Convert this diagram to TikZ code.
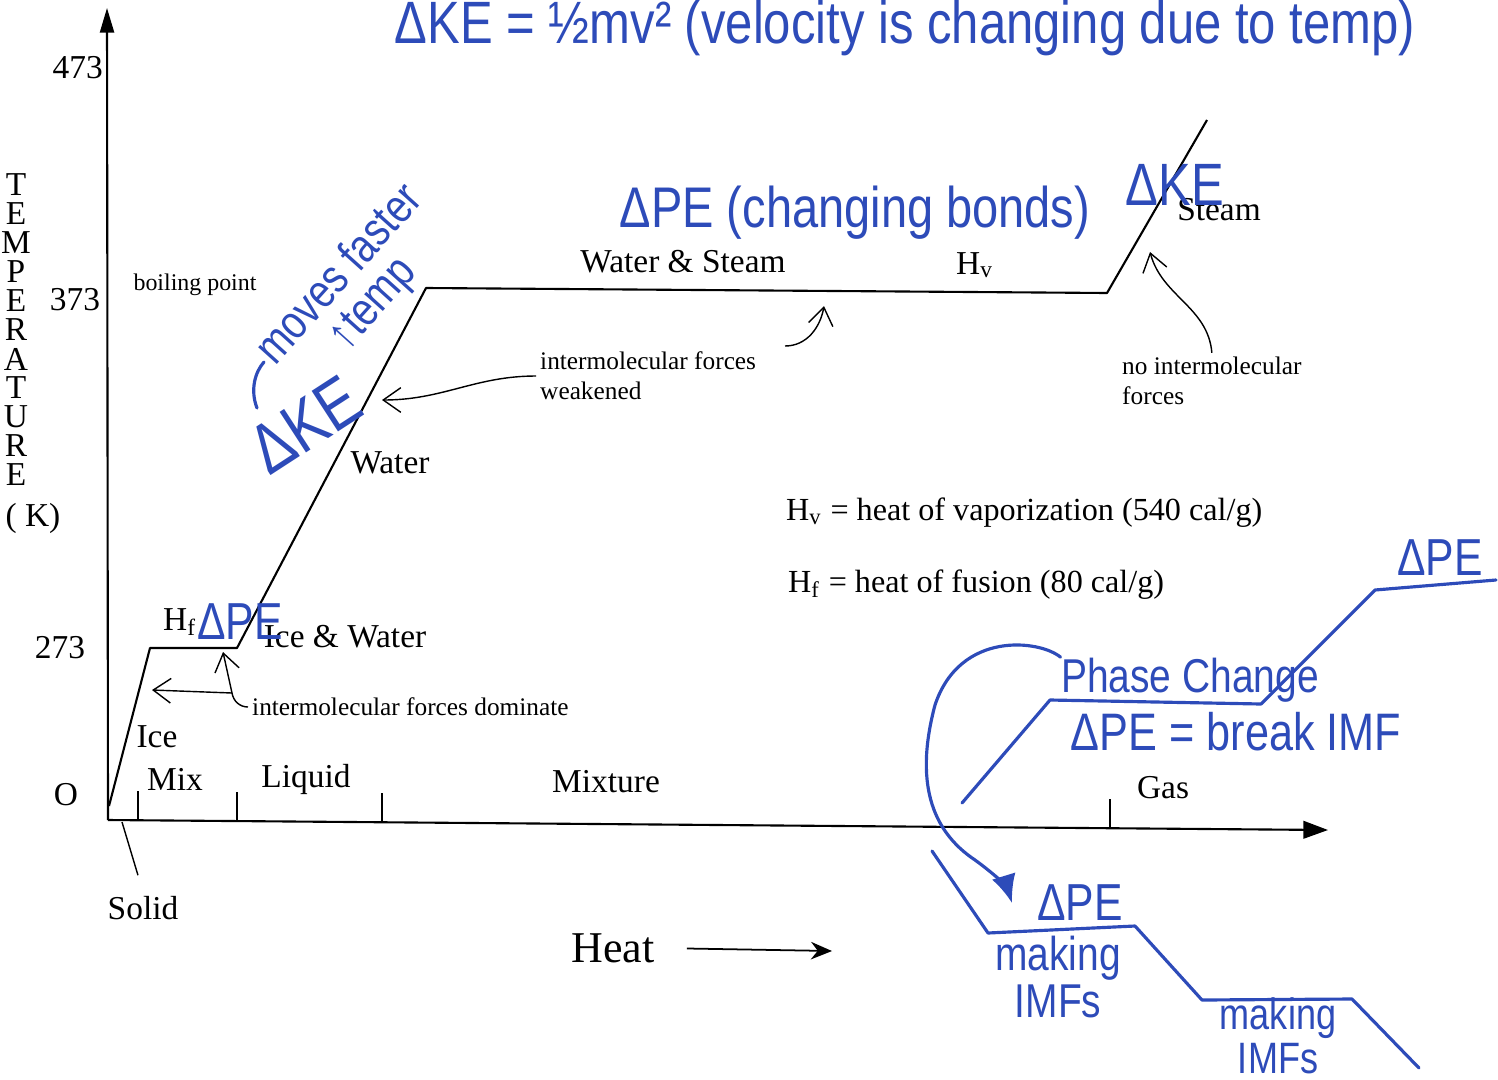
\documentclass[tikz,border=0pt]{standalone}
\usepackage{fontspec}
\setmainfont{Liberation Serif}
\newfontfamily\handfont[FakeStretch=0.82]{Liberation Sans}
\usetikzlibrary{arrows.meta, positioning}
\definecolor{ink}{RGB}{45,75,185}
\newcommand{\inkfont}[1]{\handfont\fontsize{#1}{#1}\selectfont}

\begin{document}
\begin{tikzpicture}[
    x=0.01cm, y=-0.01cm,
    lbl/.style={font=\fontsize{9.5}{11}\selectfont, inner sep=1pt},
    small/.style={font=\fontsize{7.2}{8.6}\selectfont, inner sep=1pt, align=left},
    tick/.style={line width=0.5pt},
    curve/.style={line width=0.6pt, line join=round},
    pointer/.style={-{Straight Barb[length=5pt,width=7pt]}, line width=0.4pt},
    hand/.style={text=ink, inner sep=0pt},
    inkline/.style={ink, line width=0.9pt, line join=round, line cap=round}
    ]
    \useasboundingbox (0,0) rectangle (1498,1079);

    % Axes
    \coordinate (o) at (108,820);
    \coordinate (ytop) at (107,8);
    \coordinate (xend) at (1328,830);
    \draw[line width=0.6pt, -{Triangle[length=7pt,width=4pt]}] (o) -- (ytop);
    \draw[line width=0.6pt, -{Triangle[length=7pt,width=5pt]}] (o) -- (xend);
    \foreach \t/\ya in {138/820, 237/821, 382/822, 1110/828} {
        \draw[tick] (\t,\ya) -- (\t,{\ya-29});
    }

    % Axis labels
    \node[lbl, anchor=east] (t473) at (107,68) {473};
    \node[lbl] (t373) at (75,300) {373};
    \node[lbl] (t273) at (60,648) {273};
    \node[lbl] (t0) at (66,795) {O};
    \foreach \c [count=\i from 0] in {T,E,M,P,E,R,A,T,U,R,E} {
        \node[lbl, inner sep=0pt] (ylab-\i) at (16,{185+29*\i}) {\c};
    }
    \node[lbl] (unit) at (33,518) {( K)};

    % Heating curve
    \coordinate (c0) at (109,806);
    \coordinate (c1) at (150,648);
    \coordinate (c2) at (237,648);
    \coordinate (c3) at (426,288);
    \coordinate (c4) at (1107,293);
    \coordinate (c5) at (1207,120);
    \draw[curve] (c0) -- (c1) -- (c2) -- (c3) -- (c4) -- (c5);

    % Curve labels
    \node[small, font=\fontsize{6.8}{8}\selectfont] (boil) at (195,285) {boiling point};
    \node[lbl] (ws) at (683,262) {Water \& Steam};
    \node[lbl] (hv) at (975,265) {H\textsubscript{v}};
    \node[lbl] (steam) at (1219,210) {Steam};
    \node[lbl] (water) at (390,463) {Water};
    \node[lbl] (iw) at (345,637) {Ice \& Water};
    \node[lbl] (hf) at (180,622) {H\textsubscript{f}};
    \node[lbl] (ice) at (157,737) {Ice};
    \node[lbl] (mix) at (175,779) {Mix};
    \node[lbl] (liquid) at (306,779) {Liquid};
    \node[lbl] (mixture) at (606,782) {Mixture};
    \node[lbl] (gas) at (1163,788) {Gas};
    \node[lbl] (solid) at (143,908) {Solid};
    \node[lbl, font=\fontsize{12.5}{14}\selectfont] (heat) at (613,948) {Heat};

    % Notes
    \node[small, anchor=west] (weak) at (536,376) {intermolecular forces\\weakened};
    \node[small, anchor=west] (dom) at (248,707) {intermolecular forces dominate};
    \node[small, anchor=west] (noimf) at (1118,381) {no intermolecular\\forces};
    \node[lbl, anchor=west, font=\fontsize{9.15}{11}\selectfont] (hveq) at (782,513) {H\textsubscript{v} = heat of vaporization (540 cal/g)};
    \node[lbl, anchor=west, font=\fontsize{9.15}{11}\selectfont] (hfeq) at (784,585) {H\textsubscript{f} = heat of fusion (80 cal/g)};

    % Pointers
    \coordinate (weaktip) at (382,400);
    \coordinate (domjoin) at (232,693);
    \coordinate (icetip) at (152,690);
    \coordinate (melttip) at (223,652);
    \coordinate (hvtail) at (785,346);
    \coordinate (hvtip) at (824,306);
    \coordinate (steamtip) at (1150,252);
    \coordinate (solidpt) at (122,822);
    \coordinate (heatend) at (832,951);
    \draw[pointer] (weak.west) to[out=180, in=0] (weaktip);
    \draw[line width=0.4pt] (dom.west) to[out=180, in=-80] (domjoin);
    \draw[pointer] (domjoin) -- (icetip);
    \draw[pointer] (domjoin) -- (melttip);
    \draw[pointer] (hvtail) to[out=0, in=-100] (hvtip);
    \draw[pointer] (noimf.north) to[out=95, in=-75] (steamtip);
    \draw[line width=0.4pt, shorten >=5pt] (solidpt) -- (solid.north);
    \draw[line width=0.5pt, shorten <=8pt, -{Stealth[length=6pt,width=5pt]}] (heat.east) -- (heatend);

    % Handwritten notes
    \node[hand, font=\inkfont{17}] (kedef) at (905,28) {ΔKE = ½mv² (velocity is changing due to temp)};
    \node[hand, font=\handfont\fontsize{13.5}{12.5}\selectfont, align=center, rotate=48] (faster) at (357,290) {moves faster\\↑temp};
    \draw[inkline] (257,408) .. controls (250,390) and (255,372) .. (264,362);
    \node[hand, font=\inkfont{20}, rotate=33] (keleft) at (305,425) {ΔKE};
    \node[hand, font=\inkfont{16.3}] (pebonds) at (855,213) {ΔPE (changing bonds)};
    \node[hand, font=\inkfont{17}] (keright) at (1175,185) {ΔKE};
    \node[hand, font=\inkfont{14.8}] (pefus) at (240,622) {ΔPE};

    % Phase change sketch
    \node[hand, font=\inkfont{14.8}] (petop) at (1440,558) {ΔPE};
    \node[hand, font=\inkfont{13.5}] (phase) at (1190,680) {Phase Change};
    \node[hand, font=\inkfont{15}] (brk) at (1236,732) {ΔPE = break IMF};
    \node[hand, font=\inkfont{14.8}] (pelow) at (1080,903) {ΔPE};
    \node[hand, font=\inkfont{13.5}, align=center] (mk1) at (1058,977) {making\\IMFs};
    \node[hand, font=\inkfont{12.5}, align=center] (mk2) at (1278,1036) {making\\IMFs};
    \draw[inkline] (962,803) -- (1050,700) -- (1261,704) -- (1375,590) -- (1496,580);
    \draw[inkline] (932,851) -- (988,933) -- (1135,926) -- (1202,1000) -- (1352,999) -- (1419,1068);
    \draw[inkline, -{Latex[length=8pt,width=7pt]}] (phase.north west) .. controls (1040,640) and (960,630) .. (935,705)
        .. controls (915,780) and (930,830) .. (975,860) .. controls (1000,878) and (1008,890) .. (1012,903);
\end{tikzpicture}
\end{document}
